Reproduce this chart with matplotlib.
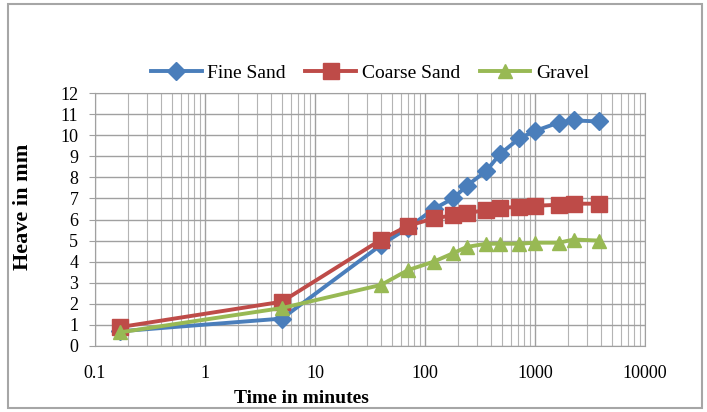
import numpy as np
import matplotlib.pyplot as plt
from matplotlib.patches import Rectangle
from matplotlib.ticker import LogLocator, FixedLocator, FixedFormatter, NullFormatter

# time in minutes
time_min = [0.17, 5, 40, 70, 120, 180, 240, 360, 480, 720, 1000, 1650, 2250, 3800]

fine_sand = [0.7, 1.3, 4.8, 5.6, 6.5, 7.0, 7.6, 8.3, 9.1, 9.85, 10.2, 10.6, 10.7, 10.65]
coarse_sand = [0.9, 2.1, 5.05, 5.7, 6.05, 6.2, 6.3, 6.45, 6.55, 6.6, 6.65, 6.7, 6.75, 6.75]
gravel = [0.65, 1.8, 2.9, 3.6, 4.0, 4.4, 4.7, 4.85, 4.85, 4.85, 4.9, 4.9, 5.05, 5.0]

x_ticks = [0.1, 1, 10, 100, 1000, 10000]
x_labels = ['0.1', '1', '10', '100', '1000', '10000']

plt.rcParams['font.family'] = ['Liberation Serif', 'DejaVu Serif']

fig = plt.figure(figsize=(7.07, 4.12), dpi=100)
fig.patches.append(Rectangle((8 / 707, 4 / 412), 694 / 707, 404 / 412,
                             transform=fig.transFigure, fill=False,
                             edgecolor='#a6a6a6', linewidth=1.5))

ax = fig.add_axes([95 / 707, 66 / 412, 550 / 707, 253 / 412])

ax.plot(time_min, fine_sand, color='#4a7ebb', linewidth=2.8, marker='D',
        markersize=9, label='Fine Sand')
ax.plot(time_min, coarse_sand, color='#be4b48', linewidth=2.8, marker='s',
        markersize=11, label='Coarse Sand')
ax.plot(time_min, gravel, color='#98b954', linewidth=2.8, marker='^',
        markersize=10, label='Gravel')

ax.set_xscale('log')
ax.set_xlim(0.1, 10000)
ax.set_ylim(0, 12)
ax.xaxis.set_major_locator(FixedLocator(x_ticks))
ax.xaxis.set_major_formatter(FixedFormatter(x_labels))
ax.xaxis.set_minor_locator(LogLocator(base=10, subs=np.arange(2, 10)))
ax.xaxis.set_minor_formatter(NullFormatter())
ax.set_yticks(range(0, 13))

ax.grid(True, which='major', color='#a0a0a0', linewidth=1.0)
ax.grid(True, which='minor', axis='x', color='#b4b4b4', linewidth=0.8)
ax.set_axisbelow(True)
for s in ax.spines.values():
    s.set_color('#a0a0a0')

ax.tick_params(axis='x', which='both', length=0, pad=14, labelsize=13)
ax.tick_params(axis='y', which='both', length=4, color='#a0a0a0', pad=8, labelsize=13)

ax.set_xlabel('Time in minutes', fontsize=14, fontweight='bold')
ax.xaxis.set_label_coords(0.376, -0.175)
ax.set_ylabel('Heave in mm', fontsize=16, fontweight='bold')
ax.yaxis.set_label_coords(-0.113, 0.55)

ax.legend(loc='lower center', bbox_to_anchor=(0.5, 0.975), ncol=3, frameon=False,
          fontsize=14, handlelength=2.6, columnspacing=1.0, handletextpad=0.3)

fig.savefig('out.png', dpi=100)
